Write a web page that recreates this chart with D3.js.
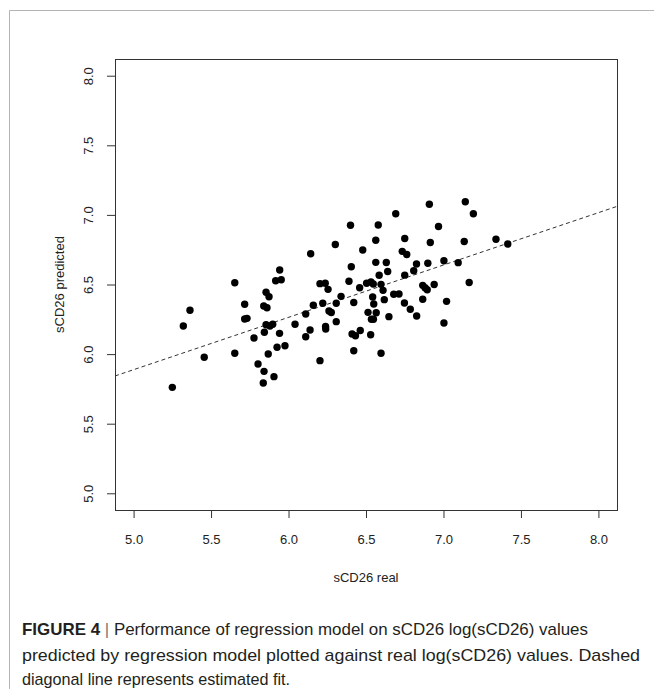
<!DOCTYPE html>
<html>
<head>
<meta charset="utf-8">
<script src="https://cdn.jsdelivr.net/npm/d3@7"></script>
<style>
    body { margin: 0; background: #fff; }
    svg { display: block; }
</style>
</head>
<body>
<svg id="drawing_region"></svg>
<script>
// values (log scale, sCD26)
const realValues = [
    5.250, 5.321, 5.364, 5.456, 5.653, 5.653, 5.717, 5.717, 5.732, 5.777,
    5.803, 5.837, 5.840, 5.844, 5.842, 5.855, 5.861, 5.855, 5.869, 5.874,
    5.880, 5.898, 5.906, 5.917, 5.926, 5.943, 5.942, 5.953, 5.977, 6.042,
    6.111, 6.111, 6.139, 6.143, 6.160, 6.203, 6.203, 6.221, 6.237, 6.239,
    6.240, 6.255, 6.261, 6.276, 6.302, 6.308, 6.308, 6.339, 6.390, 6.400,
    6.405, 6.410, 6.421, 6.421, 6.432, 6.463, 6.459, 6.479, 6.504, 6.513,
    6.532, 6.530, 6.535, 6.548, 6.547, 6.543, 6.550, 6.563, 6.563, 6.566,
    6.579, 6.585, 6.597, 6.597, 6.610, 6.618, 6.631, 6.640, 6.648, 6.679,
    6.713, 6.692, 6.734, 6.763, 6.750, 6.750, 6.748, 6.786, 6.808, 6.826,
    6.827, 6.866, 6.881, 6.895, 6.866, 6.899, 6.909, 6.915, 6.940, 6.968,
    7.003, 7.003, 7.020, 7.095, 7.134, 7.141, 7.166, 7.193, 7.339, 7.415
];

const predictedValues = [
    5.761, 6.202, 6.315, 5.977, 6.513, 6.006, 6.358, 6.252, 6.257, 6.116,
    5.929, 5.792, 6.346, 6.157, 5.876, 6.444, 6.333, 6.211, 6.001, 6.412,
    6.202, 6.214, 5.838, 6.527, 6.049, 6.604, 6.149, 6.534, 6.060, 6.214,
    6.288, 6.125, 6.173, 6.721, 6.351, 6.506, 5.953, 6.365, 6.509, 6.198,
    6.180, 6.465, 6.310, 6.299, 6.787, 6.365, 6.233, 6.415, 6.523, 6.926,
    6.628, 6.144, 6.371, 6.024, 6.132, 6.170, 6.477, 6.748, 6.509, 6.300,
    6.518, 6.139, 6.250, 6.250, 6.504, 6.410, 6.360, 6.818, 6.659, 6.297,
    6.927, 6.566, 6.501, 6.006, 6.458, 6.391, 6.658, 6.593, 6.269, 6.430,
    6.432, 7.008, 6.738, 6.715, 6.830, 6.567, 6.367, 6.322, 6.599, 6.647,
    6.274, 6.494, 6.477, 6.462, 6.394, 6.653, 7.076, 6.802, 6.500, 6.917,
    6.671, 6.223, 6.379, 6.657, 6.809, 7.095, 6.514, 7.008, 6.825, 6.791
];

const tickValues = [5.0, 5.5, 6.0, 6.5, 7.0, 7.5, 8.0];
const axisLimits = [5, 8];

// estimated fit (dashed line)
const fitIntercept = 4.008;
const fitSlope = 0.376;

const xLabel = "sCD26 real";
const yLabel = "sCD26 predicted";

const captionTitle = "FIGURE 4";
const captionLines = [
    "Performance of regression model on sCD26 log(sCD26) values",
    "predicted by regression model plotted against real log(sCD26) values. Dashed",
    "diagonal line represents estimated fit."
];

const data = realValues.map((d, i) => ({ real: d, predicted: predictedValues[i] }));

const config = {
    parent: "#drawing_region",
    width: 654,
    height: 689,
    plot: { left: 115, right: 617, top: 59, bottom: 510 }
};

class ScatterPlot {
    constructor(config, data) {
        this.config = config;
        this.data = data;
        this.init();
    }

    init() {
        const self = this;
        const p = self.config.plot;

        self.svg = d3.select(self.config.parent)
            .attr("width", self.config.width)
            .attr("height", self.config.height)
            .style("font-family", "'Liberation Sans', Arial, sans-serif");

        // R style: 4% padding on each side of the limits
        const pad = (axisLimits[1] - axisLimits[0]) * 0.04;
        const domain = [axisLimits[0] - pad, axisLimits[1] + pad];

        self.xscale = d3.scaleLinear().domain(domain).range([p.left, p.right]);
        self.yscale = d3.scaleLinear().domain(domain).range([p.bottom, p.top]);
    }

    update() {
        this.render();
    }

    render() {
        const self = this;
        const p = self.config.plot;

        // page frame
        self.svg.append("path")
            .attr("d", `M9.5,${self.config.height} V10.5 H${self.config.width}`)
            .attr("fill", "none")
            .attr("stroke", "#b4b4b4")
            .attr("stroke-width", 1);

        self.svg.append("clipPath")
            .attr("id", "plot_clip")
            .append("rect")
            .attr("x", p.left)
            .attr("y", p.top)
            .attr("width", p.right - p.left)
            .attr("height", p.bottom - p.top);

        // axes
        const xaxis = d3.axisBottom(self.xscale)
            .tickValues(tickValues)
            .tickFormat(d3.format(".1f"))
            .tickSize(8)
            .tickPadding(17);

        const xg = self.svg.append("g")
            .attr("transform", `translate(0, ${p.bottom})`)
            .call(xaxis);
        xg.select(".domain").remove();
        xg.selectAll("line").attr("stroke", "#333");
        xg.selectAll("text")
            .attr("font-size", "13px")
            .attr("font-family", "'Liberation Sans', Arial, sans-serif")
            .attr("fill", "#222");

        const yaxis = d3.axisLeft(self.yscale)
            .tickValues(tickValues)
            .tickFormat(d3.format(".1f"))
            .tickSize(8);

        const yg = self.svg.append("g")
            .attr("transform", `translate(${p.left}, 0)`)
            .call(yaxis);
        yg.select(".domain").remove();
        yg.selectAll("line").attr("stroke", "#333");
        yg.selectAll("text")
            .attr("font-size", "13px")
            .attr("font-family", "'Liberation Sans', Arial, sans-serif")
            .attr("fill", "#222")
            .attr("text-anchor", "middle")
            .attr("x", 0)
            .attr("y", 0)
            .attr("dy", 0)
            .attr("transform", "translate(-25, 0) rotate(-90)")
            .attr("dominant-baseline", "middle");

        // fit line
        const dom = self.xscale.domain();
        self.svg.append("line")
            .attr("clip-path", "url(#plot_clip)")
            .attr("x1", self.xscale(dom[0]))
            .attr("y1", self.yscale(fitIntercept + fitSlope * dom[0]))
            .attr("x2", self.xscale(dom[1]))
            .attr("y2", self.yscale(fitIntercept + fitSlope * dom[1]))
            .attr("stroke", "#333")
            .attr("stroke-width", 1)
            .attr("stroke-dasharray", "4,3");

        // points
        self.svg.append("g")
            .selectAll("circle")
            .data(self.data)
            .enter()
            .append("circle")
            .attr("cx", d => self.xscale(d.real))
            .attr("cy", d => self.yscale(d.predicted))
            .attr("r", 3.7)
            .attr("fill", "black");

        // box
        self.svg.append("rect")
            .attr("x", p.left + 0.5)
            .attr("y", p.top + 0.5)
            .attr("width", p.right - p.left)
            .attr("height", p.bottom - p.top)
            .attr("fill", "none")
            .attr("stroke", "#333")
            .attr("stroke-width", 1);

        // axis titles
        self.svg.append("text")
            .attr("x", (p.left + p.right) / 2)
            .attr("y", 582)
            .attr("text-anchor", "middle")
            .attr("font-size", "13px")
            .attr("fill", "#222")
            .text(xLabel);

        self.svg.append("text")
            .attr("transform", `translate(64, ${(p.top + p.bottom) / 2}) rotate(-90)`)
            .attr("text-anchor", "middle")
            .attr("font-size", "13px")
            .attr("fill", "#222")
            .text(yLabel);

        // caption
        const caption = self.svg.append("g")
            .attr("font-size", "17px")
            .attr("fill", "#231f20");

        const first = caption.append("text")
            .attr("x", 22)
            .attr("y", 635);
        first.append("tspan").attr("font-weight", "bold").text(captionTitle);
        first.append("tspan").attr("fill", "#777").text(" | ");
        first.append("tspan").text(captionLines[0]);

        caption.append("text").attr("x", 22).attr("y", 661).text(captionLines[1]);
        caption.append("text").attr("x", 22).attr("y", 685).text(captionLines[2]);

        // squeeze caption lines to the widths in the figure
        const widths = [566, 618, 268];
        caption.selectAll("text").each(function(d, i) {
            d3.select(this)
                .attr("textLength", widths[i])
                .attr("lengthAdjust", "spacingAndGlyphs");
        });
    }
}

const scatter_plot = new ScatterPlot(config, data);
scatter_plot.update();
</script>
</body>
</html>
